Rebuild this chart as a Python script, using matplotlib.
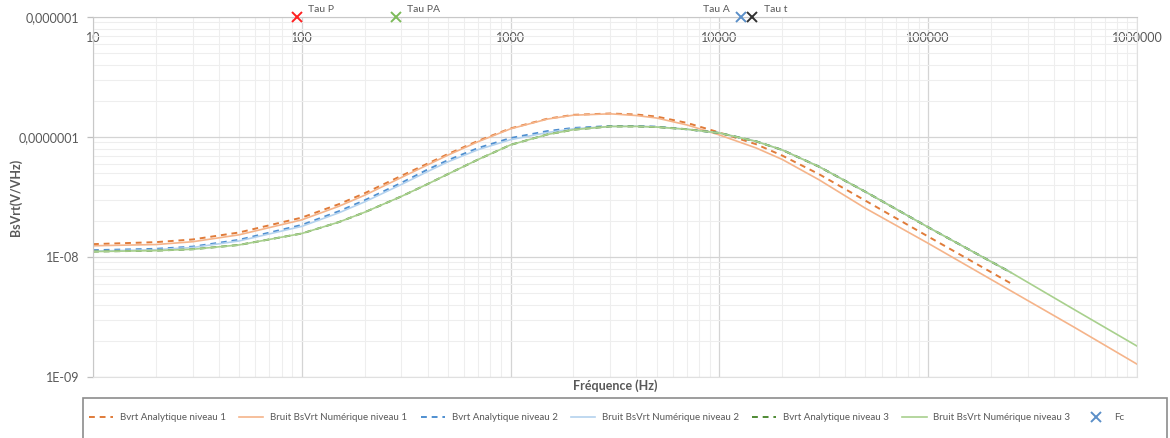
import matplotlib
matplotlib.use('Agg')
import matplotlib.pyplot as plt
from matplotlib.patches import Rectangle
from matplotlib.ticker import FixedLocator, FixedFormatter, LogLocator, NullFormatter

# ---------------- data ----------------
freq = [10, 20, 30, 50, 100, 150, 200, 300, 400, 500, 700, 1000, 1500, 2000, 3000, 4000, 5000,
        7000, 10000, 15000, 20000, 30000, 50000, 100000, 250000]
freq_num = freq + [500000, 1000000]

ana1 = [1.28e-8, 1.33e-8, 1.40e-8, 1.60e-8, 2.13e-8, 2.75e-8, 3.40e-8, 4.75e-8, 6.0e-8, 7.2e-8,
        9.3e-8, 1.18e-7, 1.42e-7, 1.53e-7, 1.57e-7, 1.54e-7, 1.48e-7, 1.31e-7, 1.09e-7, 8.7e-8,
        7.0e-8, 4.9e-8, 2.95e-8, 1.48e-8, 6.0e-9]
num1 = [1.24e-8, 1.27e-8, 1.34e-8, 1.53e-8, 2.04e-8, 2.64e-8, 3.27e-8, 4.6e-8, 5.85e-8, 7.05e-8,
        9.15e-8, 1.17e-7, 1.41e-7, 1.52e-7, 1.56e-7, 1.51e-7, 1.44e-7, 1.26e-7, 1.04e-7, 8.1e-8,
        6.5e-8, 4.4e-8, 2.55e-8, 1.30e-8, 5.2e-9, 2.6e-9, 1.28e-9]
ana2 = [1.14e-8, 1.17e-8, 1.22e-8, 1.39e-8, 1.85e-8, 2.40e-8, 2.97e-8, 4.15e-8, 5.35e-8, 6.4e-8,
        8.1e-8, 9.8e-8, 1.12e-7, 1.19e-7, 1.235e-7, 1.235e-7, 1.22e-7, 1.16e-7, 1.08e-7, 9.2e-8,
        7.8e-8, 5.66e-8, 3.5e-8, 1.77e-8, 7.4e-9]
num2 = [1.12e-8, 1.15e-8, 1.20e-8, 1.36e-8, 1.80e-8, 2.33e-8, 2.88e-8, 4.02e-8, 5.15e-8, 6.2e-8,
        7.85e-8, 9.5e-8, 1.09e-7, 1.17e-7, 1.225e-7, 1.23e-7, 1.215e-7, 1.16e-7, 1.08e-7, 9.2e-8,
        7.8e-8, 5.66e-8, 3.5e-8, 1.77e-8, 7.4e-9]
ana3 = [1.11e-8, 1.13e-8, 1.16e-8, 1.26e-8, 1.57e-8, 1.95e-8, 2.36e-8, 3.2e-8, 4.05e-8, 4.9e-8,
        6.5e-8, 8.6e-8, 1.05e-7, 1.15e-7, 1.225e-7, 1.225e-7, 1.21e-7, 1.16e-7, 1.08e-7, 9.2e-8,
        7.8e-8, 5.66e-8, 3.5e-8, 1.77e-8, 7.4e-9]
num3 = [1.11e-8, 1.13e-8, 1.16e-8, 1.26e-8, 1.57e-8, 1.95e-8, 2.36e-8, 3.2e-8, 4.05e-8, 4.9e-8,
        6.5e-8, 8.6e-8, 1.05e-7, 1.15e-7, 1.225e-7, 1.225e-7, 1.21e-7, 1.16e-7, 1.08e-7, 9.2e-8,
        7.8e-8, 5.66e-8, 3.5e-8, 1.77e-8, 7.4e-9, 3.65e-9, 1.81e-9]

tau_names = ['Tau P', 'Tau PA', 'Tau A', 'Tau t']
tau_freq = [95, 282, 12700, 14400]
tau_value = [1e-6, 1e-6, 1e-6, 1e-6]
tau_colors = ['#ff2020', '#7dbb5a', '#5b8fc8', '#303030']

xticks = [10, 100, 1000, 10000, 100000, 1000000]
xtick_labels = ['10', '100', '1000', '10000', '100000', '1000000']
yticks = [1e-9, 1e-8, 1e-7, 1e-6]
ytick_labels = ['1E-09', '1E-08', '0,0000001', '0,000001']

legend_labels = ['Bvrt Analytique niveau 1', 'Bruit BsVrt Numérique niveau 1',
                 'Bvrt Analytique niveau 2', 'Bruit BsVrt Numérique niveau 2',
                 'Bvrt Analytique niveau 3', 'Bruit BsVrt Numérique niveau 3', 'Fc']

# ---------------- figure ----------------
plt.rcParams['font.family'] = ['Lato', 'DejaVu Sans']
txt = '#595959'
W, H = 1170, 438
fig = plt.figure(figsize=(W / 100, H / 100), dpi=100)
ax = fig.add_axes([93 / W, 1 - 377 / H, (1137 - 93) / W, (377 - 17) / H])

ax.set_xscale('log')
ax.set_yscale('log')
ax.set_xlim(10, 1e6)
ax.set_ylim(1e-9, 1e-6)

dash = (0, (3, 2.5))
h = []
h += ax.plot(freq, ana1, color='#e07b39', lw=1.4, ls=dash, label=legend_labels[0])
h += ax.plot(freq_num, num1, color='#f5b48a', lw=1.2, label=legend_labels[1])
h += ax.plot(freq, ana2, color='#4f8fd0', lw=1.4, ls=dash, label=legend_labels[2])
h += ax.plot(freq, num2, color='#b4d2ee', lw=1.2, label=legend_labels[3])
h += ax.plot(freq, ana3, color='#4f8a34', lw=1.4, ls=dash, label=legend_labels[4])
h += ax.plot(freq_num, num3, color='#a8d08d', lw=1.2, label=legend_labels[5])

for n, f, v, c in zip(tau_names, tau_freq, tau_value, tau_colors):
    lab = legend_labels[6] if n == 'Tau A' else None
    hh = ax.plot([f], [v], ls='none', marker='x', ms=7, mew=1.4, color=c, clip_on=False,
                 zorder=5, label=lab)
    if lab:
        h += hh
    if n == 'Tau A':
        ax.annotate(n, (f, v), xytext=(-8, 2), textcoords='offset points', ha='right',
                    va='bottom', fontsize=7.5, color=txt, annotation_clip=False)
    else:
        ax.annotate(n, (f, v), xytext=(8, 2), textcoords='offset points', ha='left',
                    va='bottom', fontsize=7.5, color=txt, annotation_clip=False)

# grid
ax.xaxis.set_minor_locator(LogLocator(base=10, subs=range(2, 10), numticks=20))
ax.yaxis.set_minor_locator(LogLocator(base=10, subs=range(2, 10), numticks=20))
ax.xaxis.set_minor_formatter(NullFormatter())
ax.yaxis.set_minor_formatter(NullFormatter())
ax.grid(True, which='major', color='#d4d4d4', lw=0.9)
ax.grid(True, which='minor', color='#eeeeee', lw=0.8)
ax.set_axisbelow(True)

ax.xaxis.set_major_locator(FixedLocator(xticks))
ax.xaxis.set_major_formatter(FixedFormatter(xtick_labels))
ax.yaxis.set_major_locator(FixedLocator(yticks))
ax.yaxis.set_major_formatter(FixedFormatter(ytick_labels))

ax.tick_params(axis='x', which='both', top=False, bottom=False, labeltop=True,
               labelbottom=False, pad=-23, labelsize=9, labelcolor=txt)
ax.tick_params(axis='y', which='major', length=4, color='#bfbfbf', width=0.9,
               pad=6, labelsize=9, labelcolor=txt)
ax.tick_params(axis='y', which='minor', length=0)

for s in ['left', 'top']:
    ax.spines[s].set_color('#c8c8c8')
for s in ['right', 'bottom']:
    ax.spines[s].set_color('#e0e0e0')

ax.set_xlabel('Fréquence (Hz)', fontsize=9, fontweight='bold', color=txt, labelpad=2)
ax.xaxis.set_label_position('bottom')
ax.set_ylabel('BsVrt(V/VHz)', fontsize=9, fontweight='bold', color=txt)
ax.yaxis.set_label_coords((22 - 93) / 1044, 0.5)

# legend box (frame drawn separately, extends past the right edge like the reference)
fig.patches.append(Rectangle((83 / W, -10 / H), (1167 - 83) / W, (448 - 398) / H,
                             transform=fig.transFigure, fill=False, edgecolor='#8c8c8c',
                             lw=1.2, zorder=0))
leg = fig.legend(handles=h, loc='center left', bbox_to_anchor=(87 / W, 1 - 418 / H),
                 ncol=7, fontsize=7, frameon=False, borderpad=0.2, handlelength=2.5,
                 handletextpad=0.7, columnspacing=1.35, borderaxespad=0)
for t in leg.get_texts():
    t.set_color(txt)

fig.savefig('out.png', dpi=100)
